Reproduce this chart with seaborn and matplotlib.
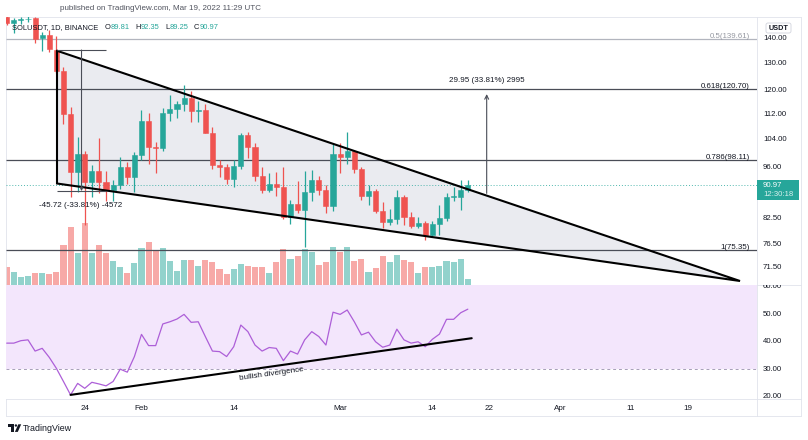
import numpy as np
import pandas as pd
import matplotlib
matplotlib.use("Agg")
import matplotlib.pyplot as plt
import matplotlib.transforms as mtrans
from matplotlib.patches import Polygon, Rectangle, FancyBboxPatch, Circle
from matplotlib.lines import Line2D
import seaborn as sns

# ---------------- data ----------------
start_date = "2022-01-13"
opens = [149.0, 146.2, 147.5, 148.0, 148.3, 140.0, 141.3, 135.2, 127.2, 112.0,
         94.7, 99.7, 92.0, 94.8, 92.0, 89.7, 91.1, 96.1, 93.3, 99.4,
         109.9, 101.9, 101.4, 112.5, 113.7, 115.3, 117.4, 113.2, 113.6, 106.1,
         96.6, 96.0, 92.7, 96.4, 105.4, 101.9, 93.5, 89.7, 91.3, 90.6,
         83.0, 86.3, 84.7, 89.3, 92.5, 89.9, 85.7, 99.7, 98.8, 100.6,
         95.6, 88.2, 89.5, 84.5, 81.8, 82.4, 88.0, 83.0, 80.8, 81.4,
         78.7, 81.3, 82.8, 87.9, 87.9, 89.81]
closes = [146.2, 147.5, 148.0, 148.2, 139.5, 141.3, 135.4, 127.2, 112.0, 94.7,
          99.7, 92.0, 94.8, 92.0, 89.7, 91.1, 96.1, 93.3, 99.4, 109.9,
          101.9, 101.4, 112.5, 113.7, 115.3, 117.4, 113.2, 113.6, 106.1, 96.6,
          96.0, 92.7, 96.4, 105.4, 101.9, 93.5, 89.7, 91.3, 90.6, 83.0,
          86.3, 84.7, 89.3, 92.5, 89.9, 85.7, 99.7, 98.8, 100.6, 95.6,
          88.2, 89.5, 84.5, 81.8, 82.4, 88.0, 83.0, 80.8, 81.4, 78.7,
          81.3, 82.8, 87.9, 88.2, 89.8, 90.97]
highs = [151.0, 148.3, 149.0, 149.3, 148.8, 142.6, 143.3, 141.0, 128.5, 114.5,
         104.9, 100.5, 96.5, 104.5, 94.8, 92.5, 98.9, 97.5, 100.2, 113.5,
         112.6, 103.4, 114.0, 118.5, 116.6, 122.0, 120.0, 116.6, 115.3, 108.0,
         97.9, 97.0, 97.9, 106.2, 106.4, 103.0, 96.0, 94.3, 94.5, 96.0,
         87.3, 92.3, 94.8, 95.2, 93.5, 91.0, 102.7, 103.0, 106.4, 100.9,
         96.0, 91.0, 90.0, 86.7, 85.0, 89.7, 88.4, 84.3, 83.0, 82.0,
         82.0, 85.8, 89.0, 90.7, 92.4, 92.35]
lows = [145.5, 142.0, 146.0, 146.8, 138.0, 134.7, 134.5, 126.5, 109.0, 88.0,
        89.3, 81.0, 88.0, 89.0, 87.0, 87.0, 90.0, 91.5, 89.3, 98.0,
        97.0, 94.3, 100.5, 110.0, 110.8, 113.0, 109.6, 109.6, 106.0, 95.4,
        93.3, 91.5, 90.7, 95.5, 98.5, 92.3, 88.9, 89.3, 88.2, 82.5,
        81.3, 84.0, 76.0, 87.0, 88.5, 84.0, 84.5, 94.4, 97.0, 94.3,
        87.1, 86.0, 84.0, 80.3, 81.0, 81.2, 81.0, 80.3, 80.3, 77.6,
        78.3, 78.7, 82.0, 87.0, 84.6, 89.25]
volumes_m = [1.83, 1.33, 0.83, 0.90, 1.17, 1.17, 1.10, 1.33, 4.00, 5.77,
             3.23, 6.23, 3.17, 4.00, 3.17, 2.40, 1.83, 1.17, 2.17, 3.73,
             4.33, 3.50, 3.73, 2.40, 1.40, 2.47, 2.53, 1.90, 2.50, 2.33,
             1.60, 1.10, 1.60, 2.10, 1.90, 1.77, 1.77, 1.17, 2.33, 3.63,
             2.57, 2.87, 3.57, 3.30, 2.03, 2.33, 3.77, 3.30, 3.83, 2.37,
             2.57, 1.33, 1.67, 2.90, 2.33, 3.00, 2.50, 2.33, 1.23, 1.77,
             1.83, 1.90, 2.40, 2.33, 2.63, 0.63]
rsi = [39.5, 39.5, 40.4, 40.7, 36.6, 37.6, 34.3, 30.3, 25.5, 20.6,
       24.8, 23.0, 25.2, 24.6, 23.9, 25.5, 30.0, 28.9, 34.6, 42.7,
       38.6, 38.6, 46.5, 47.3, 48.3, 50.0, 47.1, 47.3, 41.9, 36.6,
       36.4, 34.6, 38.2, 46.1, 43.7, 38.8, 36.6, 37.9, 37.6, 33.1,
       36.6, 35.5, 40.7, 43.7, 41.9, 38.8, 50.8, 50.0, 51.6, 47.3,
       42.5, 43.5, 40.0, 38.0, 38.8, 44.6, 40.7, 39.5, 40.0, 38.2,
       40.9, 42.8, 48.2, 48.2, 50.6, 51.9]

tick_dates = ["2022-01-24", "2022-02-01", "2022-02-14", "2022-03-01", "2022-03-14",
              "2022-03-22", "2022-04-01", "2022-04-11", "2022-04-19"]
tick_labels = ["24", "Feb", "14", "Mar", "14", "22", "Apr", "11", "19"]
price_ticks = [140, 130, 120, 112, 104, 96, 82.5, 76.5, 71.5]
rsi_ticks = [60, 50, 40, 30, 20]
fib_levels = [0.5, 0.618, 0.786, 1.0]
fib_prices = [139.61, 120.70, 98.11, 75.35]
last_price = 90.97

# drawings (day offset from start, price)
wedge_pts = [(7.09, 134.9), (7.09, 91.5), (103.37, 68.8)]
range_top, range_bot = 135.2, 89.48
range_x = (7.09, 14.0)
target_day, target_lo, target_hi = 67.66, 88.9, 118.85
div_start = (9.0, 20.6)
div_end = (65.55, 41.3)

# ---------------- style ----------------
sns.set_theme(style="white")
plt.rcParams['font.family'] = ['Liberation Sans', 'DejaVu Sans']
UP, DOWN = '#26a69a', '#ef5350'
VUP, VDOWN = '#92d2cc', '#f7a9a7'
TXT = '#131722'
GRID = '#e0e3eb'

W, H = 808, 440
fig = plt.figure(figsize=(W / 100, H / 100), dpi=100)
fig.patch.set_facecolor('white')
tpx = mtrans.Affine2D().scale(1 / W, -1 / H).translate(0, 1) + fig.transFigure

def axpx(x0, y0, x1, y1, z=1):
    return fig.add_axes([x0 / W, 1 - y1 / H, (x1 - x0) / W, (y1 - y0) / H], zorder=z)

PX_DAY = 7.094
XMIN = -0.1
XMAX = XMIN + (757 - 6) / PX_DAY
PMIN, PMAX = 68.0, 148.9
RMIN, RMAX = 19.1, 60.73

start = pd.Timestamp(start_date)
dates = pd.date_range(start, periods=len(opens), freq="D")
x = np.asarray((dates - start).days, dtype=float)
o, c, hi, lo = map(np.asarray, (opens, closes, highs, lows))
vol = np.asarray(volumes_m)
up = c >= o
ccol = np.where(up, UP, DOWN)
vcol = np.where(up, VUP, VDOWN)

# ---------------- volume (behind) ----------------
ax_v = axpx(6, 17, 757, 285, z=0)
ax_v.bar(x, vol, width=0.86, color=vcol, linewidth=0)
ax_v.set_xlim(XMIN, XMAX)
ax_v.set_ylim(0, 26.8)
ax_v.axis('off')

# ---------------- price pane ----------------
ax_p = axpx(6, 17, 757, 285, z=1)
ax_p.set_facecolor('none')
ax_p.set_yscale('log')
ax_p.set_xlim(XMIN, XMAX)
ax_p.set_ylim(PMIN, PMAX)
ax_p.axis('off')

ax_p.add_patch(Polygon(wedge_pts, closed=True, facecolor='#eaebf0', edgecolor='none', zorder=1))

for lev, pr in zip(fib_levels, fib_prices):
    col = '#b2b5be' if lev == 0.5 else '#4a4d57'
    tcol = '#9598a1' if lev == 0.5 else TXT
    ax_p.hlines(pr, XMIN, XMAX, color=col, lw=0.9, zorder=2)
    ax_p.text(104.78, pr * 1.003, f"{lev:g}({pr:.2f})", ha='right', va='baseline',
              fontsize=5.7, color=tcol, zorder=6)

ax_p.axhline(last_price, color=UP, ls=(0, (1, 2)), lw=0.7, alpha=0.8, zorder=2)

ax_p.vlines(x, lo, hi, colors=ccol, lw=0.9, zorder=3)
ax_p.bar(x, np.abs(c - o), bottom=np.minimum(o, c), width=0.72, color=ccol,
         edgecolor=ccol, linewidth=0.4, zorder=4)

wx = [p[0] for p in wedge_pts] + [wedge_pts[0][0]]
wy = [p[1] for p in wedge_pts] + [wedge_pts[0][1]]
ax_p.plot(wx, wy, color='black', lw=1.5, solid_joinstyle='miter', zorder=5)

MEAS = '#4a4d57'
ax_p.hlines([range_top, range_bot], range_x[0], range_x[1], color=MEAS, lw=0.8, zorder=5)
mid = (range_x[0] + range_x[1]) / 2
ax_p.annotate('', xy=(mid, range_bot), xytext=(mid, range_top),
              arrowprops=dict(arrowstyle='->', color=MEAS, lw=0.8, shrinkA=0, shrinkB=0,
                              mutation_scale=5), zorder=5)
ax_p.text(mid - 0.15, 85.7, f"{range_bot - range_top:.2f} (-33.81%) -4572", ha='center',
          va='center', fontsize=5.8, color=TXT, zorder=6)

ax_p.annotate('', xy=(target_day, target_hi), xytext=(target_day, target_lo),
              arrowprops=dict(arrowstyle='->', color=MEAS, lw=0.8, shrinkA=0, shrinkB=0,
                              mutation_scale=7), zorder=5)
ax_p.text(target_day, 123.8, f"{target_hi - target_lo:.2f} (33.81%) 2995", ha='center',
          va='center', fontsize=5.8, color=TXT, zorder=6)

# ---------------- RSI pane ----------------
ax_r = axpx(6, 285, 757, 399, z=1)
ax_r.axhspan(30, 70, color='#f3e6fc', lw=0, zorder=0)
ax_r.axhline(30, color='#a79fb8', ls=(0, (3, 3)), lw=0.7, zorder=1)
sns.lineplot(x=x, y=rsi, ax=ax_r, color='#ad5fd8', linewidth=0.9, zorder=3)
ax_r.plot([div_start[0], div_end[0]], [div_start[1], div_end[1]], color='black', lw=1.5, zorder=4)
ax_r.set_xlim(XMIN, XMAX)
ax_r.set_ylim(RMIN, RMAX)
ax_r.set_xlabel('')
ax_r.set_ylabel('')
ax_r.set_yticks([])
for s in ax_r.spines.values():
    s.set_visible(False)
tick_x = [(pd.Timestamp(d) - start).days for d in tick_dates]
ax_r.set_xticks(tick_x)
ax_r.set_xticklabels(tick_labels)
ax_r.tick_params(axis='x', length=0, pad=4, labelsize=5.8, colors=TXT)

p1 = ax_r.transData.transform(div_start)
p2 = ax_r.transData.transform(div_end)
ang = np.degrees(np.arctan2(p2[1] - p1[1], p2[0] - p1[0]))
ax_r.text(37.4, 28.25, "bullish divergence", rotation=ang, rotation_mode='anchor',
          ha='center', va='center', fontsize=5.9, color=TXT, zorder=5)

# ---------------- right scale columns ----------------
ax_pa = axpx(757, 17, 801, 285, z=1)
ax_pa.set_yscale('log')
ax_pa.set_ylim(PMIN, PMAX)
ax_pa.set_xlim(0, 44)
ax_pa.axis('off')
for t in price_ticks:
    ax_pa.text(6, t, f"{t:.2f}", ha='left', va='center', fontsize=5.6, color=TXT, clip_on=True)

ax_ra = axpx(757, 285, 801, 399, z=1)
ax_ra.set_ylim(RMIN, RMAX)
ax_ra.set_xlim(0, 44)
ax_ra.axis('off')
for t in rsi_ticks:
    ax_ra.text(6, t, f"{t:.2f}", ha='left', va='center', fontsize=5.6, color=TXT, clip_on=True)

# last price label
fig.patches.append(Rectangle((757, 180), 42, 20, transform=tpx, facecolor=UP, edgecolor='none', zorder=5))
fig.text(763, 185.5, f"{last_price:.2f}", transform=tpx, ha='left', va='center', fontsize=5.6,
         color='white', zorder=6)
fig.text(763, 195, "12:30:18", transform=tpx, ha='left', va='center', fontsize=5.6,
         color='#d8f0ee', zorder=6)

# USDT badge
fig.patches.append(FancyBboxPatch((766, 23), 25, 10, boxstyle='round,pad=0,rounding_size=2',
                                  transform=tpx, facecolor='white', edgecolor='#d1d4dc', lw=0.6, zorder=5))
fig.text(778.5, 28.3, "USDT", transform=tpx, ha='center', va='center', fontsize=5.2,
         color=TXT, fontweight='bold', zorder=6)

# ---------------- frame lines ----------------
for (xa, ya, xb, yb) in [(6, 17, 801, 17), (6, 285, 801, 285), (6, 399.5, 801, 399.5),
                         (6, 416.5, 801, 416.5), (757, 17, 757, 416.5), (801, 17, 801, 416.5),
                         (6, 17, 6, 416.5)]:
    fig.lines.append(Line2D([xa, xb], [ya, yb], transform=tpx, color=GRID, lw=0.6, zorder=0))

# ---------------- header / legend / footer ----------------
fig.text(161, 9, "published on TradingView.com, Mar 19, 2022 11:29 UTC", transform=tpx,
         ha='center', va='center', fontsize=5.8, color='#50535e')

renderer = fig.canvas.get_renderer()
pieces = [("SOLUSDT, 1D, BINANCE", TXT, 6.0), ("O", TXT, 0.3), (f"{opens[-1]:.2f}", UP, 5.5),
          ("H", TXT, 0.3), (f"{highs[-1]:.2f}", UP, 5.5), ("L", TXT, 0.3),
          (f"{lows[-1]:.2f}", UP, 5.5), ("C", TXT, 0.3), (f"{closes[-1]:.2f}", UP, 0)]
cx = 12
for s, col, gap in pieces:
    t = fig.text(cx, 27.3, s, transform=tpx, ha='left', va='center', fontsize=5.4, color=col, zorder=7)
    bb = t.get_window_extent(renderer)
    cx += bb.width + gap

# TradingView logo (simple shapes)
logo = '#131722'
fig.patches.append(Rectangle((8, 424.3), 6.2, 2.3, transform=tpx, facecolor=logo, edgecolor='none'))
fig.patches.append(Rectangle((11.2, 424.3), 2.5, 7.6, transform=tpx, facecolor=logo, edgecolor='none'))
fig.patches.append(Circle((15.9, 425.5), 1.2, transform=tpx, facecolor=logo, edgecolor='none'))
fig.patches.append(Polygon([(18.3, 424.3), (21.2, 424.3), (17.8, 431.9), (14.9, 431.9)], closed=True,
                           transform=tpx, facecolor=logo, edgecolor='none'))
fig.text(22.5, 428.2, "TradingView", transform=tpx, ha='left', va='center', fontsize=6.4, color=logo)

fig.savefig("out.png", dpi=100, facecolor='white')
